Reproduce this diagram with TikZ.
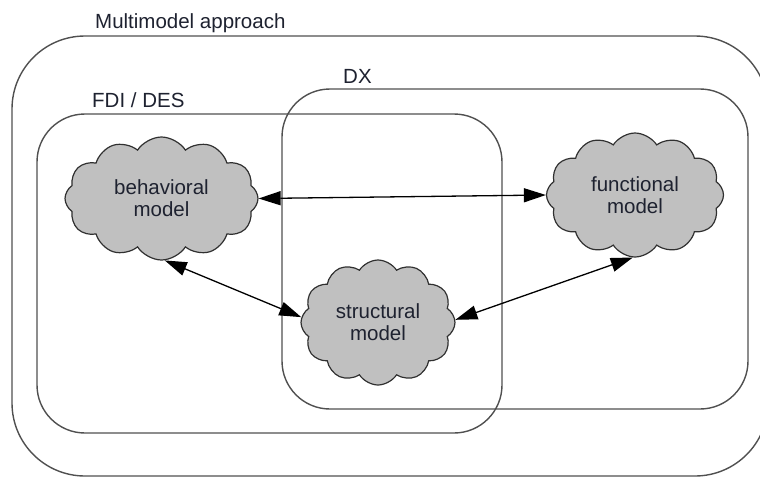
\documentclass[tikz,border=0pt]{standalone}
\usepackage{fontspec}
\setmainfont{Liberation Sans}
\usetikzlibrary{shapes.symbols,arrows.meta}
\definecolor{boxline}{HTML}{505050}
\definecolor{cloudfill}{HTML}{C0C0C0}
\definecolor{cloudline}{HTML}{303030}
\definecolor{inktext}{HTML}{1E2230}
\begin{document}
\begin{tikzpicture}[x=1pt,y=-1pt,
  every node/.style={font=\fontsize{20.5}{22}\selectfont, text=inktext},
  region/.style={draw=boxline, line width=1.4pt},
  title/.style={anchor=base west, inner sep=0pt},
  modelcloud/.style={cloud, cloud puffs=12, cloud puff arc=115, aspect=1.5,
    draw=cloudline, fill=cloudfill, line width=1.2pt, align=center,
    inner sep=0pt},
  link/.style={line width=1.3pt, draw=black,
    {Triangle[length=22pt,width=14pt]}-{Triangle[length=22pt,width=14pt]}}]
\useasboundingbox (0,0) rectangle (760,477);

% nested regions
\draw[region, rounded corners=73pt] (12,36) rectangle (768,476);
\draw[region, rounded corners=48pt] (282,89) rectangle (748,409);
\draw[region, rounded corners=48pt] (37,114) rectangle (502,433);

% region titles
\node[title] (tmulti) at (95,28) {Multimodel approach};
\node[title] (tdx) at (343,83) {DX};
\node[title] (tfdi) at (92,107) {FDI / DES};

% models
\node[modelcloud, minimum width=193pt, minimum height=123pt] (beh) at (161.5,198.5) {behavioral\\model};
\node[modelcloud, minimum width=177pt, minimum height=124pt] (fun) at (635,195) {functional\\model};
\node[modelcloud, minimum width=154pt, minimum height=125pt] (str) at (378,322.5) {structural\\model};

% relations
\draw[link] (beh.0) -- (fun.180);
\draw[link] (beh.273) -- (str.176);
\draw[link] (str.2) -- (fun.268);
\end{tikzpicture}
\end{document}
